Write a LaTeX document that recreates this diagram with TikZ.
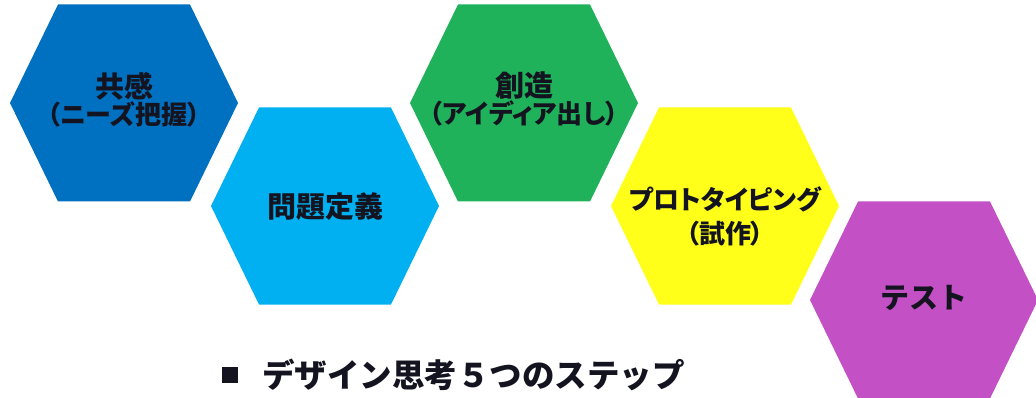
\documentclass[tikz,border=0pt]{standalone}
\usepackage{fontspec}
\newfontfamily\jp{Noto Sans CJK JP}[RawFeature=+palt]
\newfontfamily\jpfull{Noto Sans CJK JP}
\definecolor{hexA}{HTML}{0070C0}
\definecolor{hexB}{HTML}{00B0F0}
\definecolor{hexC}{HTML}{1FB25A}
\definecolor{hexD}{HTML}{FFFF1A}
\definecolor{hexE}{HTML}{C450C6}
\definecolor{txt}{HTML}{141420}
\newcommand\bigjp{\jpfull\bfseries\fontsize{29}{34}\selectfont}
\newcommand\smalljp{\jp\bfseries\fontsize{26}{34}\selectfont}
\begin{document}
\begin{tikzpicture}[x=1pt,y=-1pt,
  label/.style={text=txt,align=center,inner sep=0pt}]
\useasboundingbox (0,0) rectangle (1036,398);
\fill[white] (0,0) rectangle (1036,398);
\newcommand\hexagon[2]{%
  \fill[#2, shift={#1}] (-114,0) -- (-66,-98.5) -- (66,-98.5) -- (114,0) -- (66,98.5) -- (-66,98.5) -- cycle;}
\hexagon{(124,103)}{hexA}
\hexagon{(325,206)}{hexB}
\hexagon{(524,103)}{hexC}
\hexagon{(725,206)}{hexD}
\hexagon{(924,300)}{hexE}
\node[label] (empathy) at (124,100) {{\bigjp 共感}\\{\smalljp （ニーズ把握）}};
\node[label,font=\bigjp] (define) at (325,207) {問題定義};
\node[label] (ideate) at (524,99) {{\bigjp 創造}\\{\smalljp （アイディア出し）}};
\node[label,font=\smalljp] (proto) at (725,216) {プロトタイピング\\（試作）};
\node[label,font=\bigjp] (test) at (924,298) {テスト};
\node[fill=txt,minimum size=16pt,inner sep=0pt] (bullet) at (230,375) {};
\node[font=\jpfull\bfseries\fontsize{32.5}{38}\selectfont,inner sep=0pt,anchor=west,text=txt] (title) at (262,375) {デザイン思考５つのステップ};
\end{tikzpicture}
\end{document}
